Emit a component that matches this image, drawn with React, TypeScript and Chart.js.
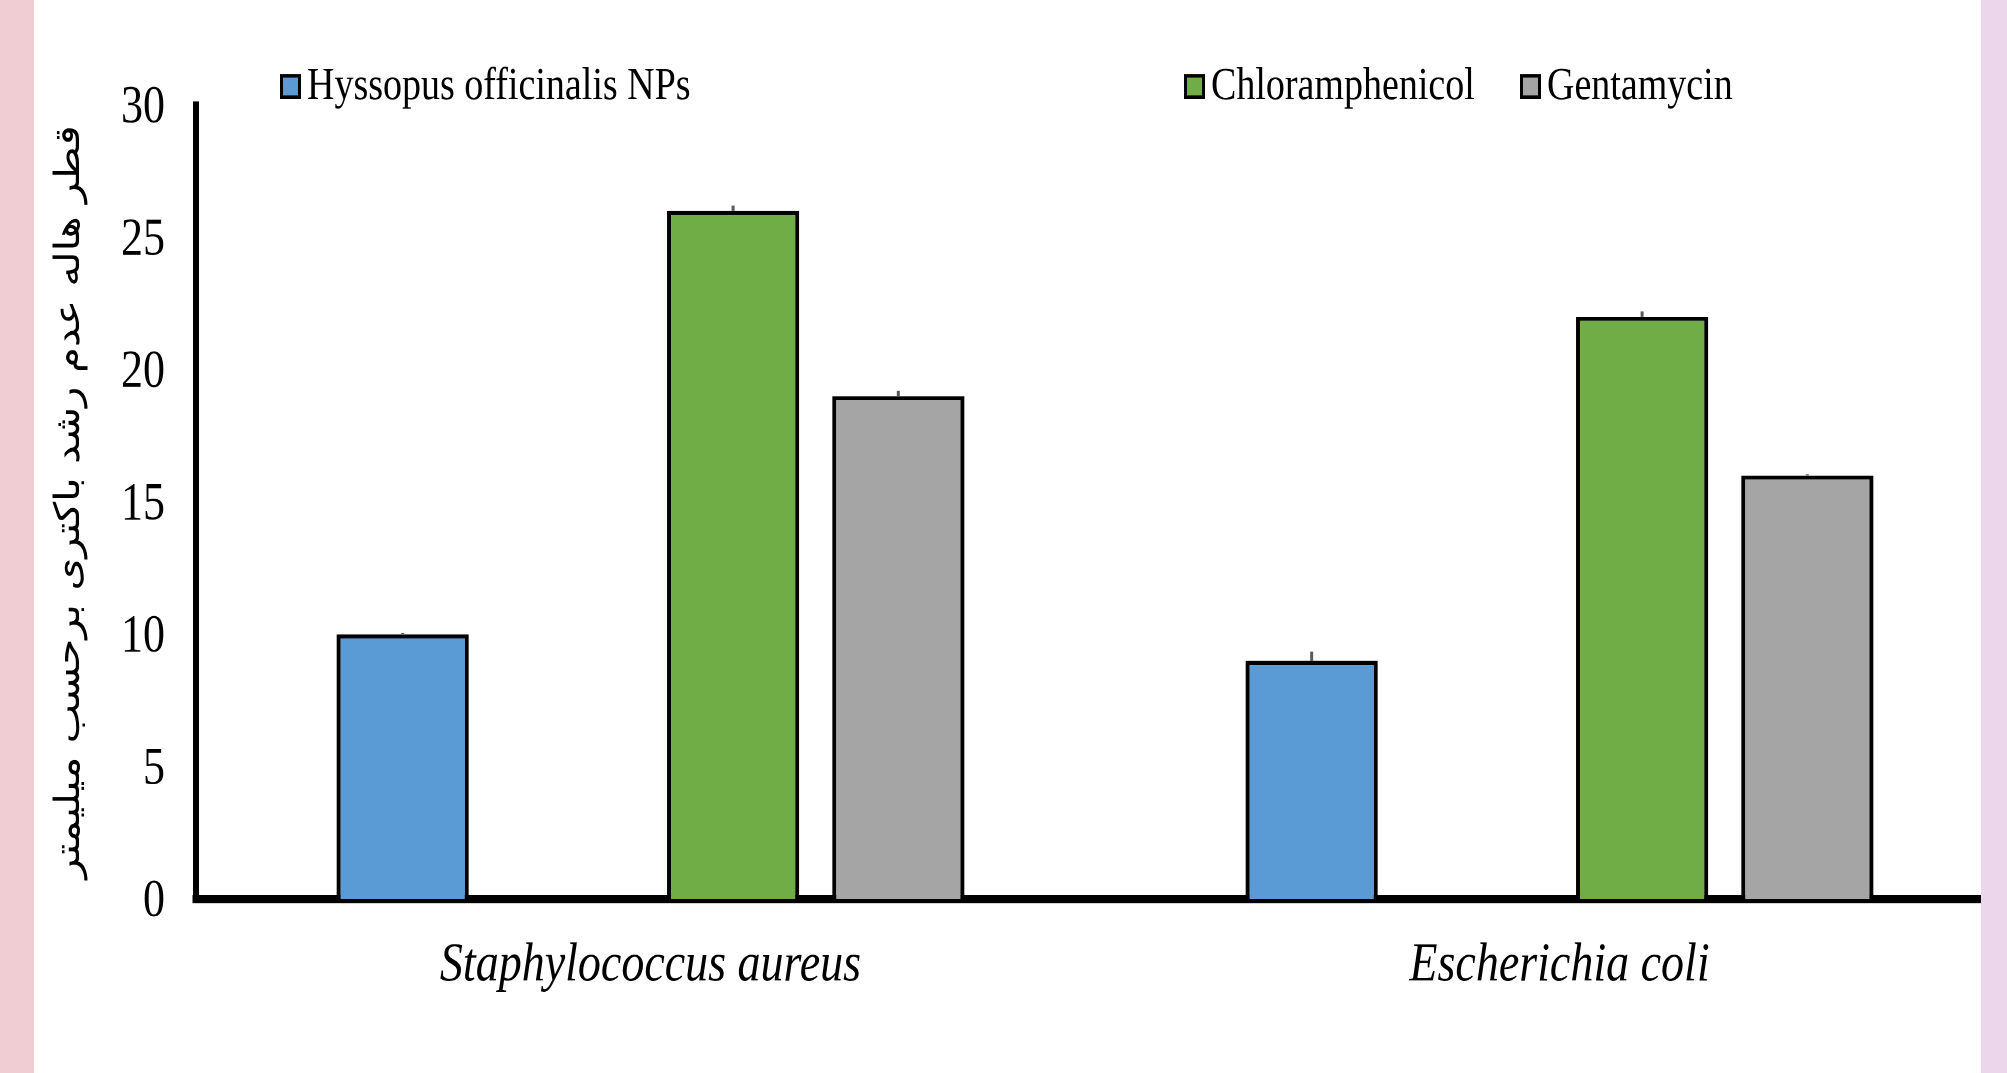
import { useEffect, useRef } from "react";
import { Chart, registerables, Plugin } from "chart.js";

Chart.register(...registerables);

// data
const bacteria = ["Staphylococcus aureus", "Escherichia coli"];
const seriesNames = ["Hyssopus officinalis NPs", "", "Chloramphenicol", "Gentamycin"];
const hyssopus = [10, 9];
const blankSeries: (number | null)[] = [null, null];
const chloramphenicol = [26, 22];
const gentamycin = [19, 16];
const hyssopusErr = [0.05, 0.35];
const chloramphenicolErr = [0.2, 0.2];
const gentamycinErr = [0.2, 0.05];
const yTicks = [0, 5, 10, 15, 20, 25, 30];
const yTitle = "قطر هاله عدم رشد باکتری برحسب میلیمتر";

const colors = ["#5B9BD5", "rgba(0,0,0,0)", "#70AD47", "#A5A5A5"];

// the source picture is stretched vertically, so the chart is drawn flatter and scaled
const STRETCH = 1.2;
const W = 2030;
const H = Math.round(1073 / STRETCH);
const legendX = [280, 0, 1184, 1520];
const TITLE_SIZE = 35;
const PAD_LEFT = 70 - (TITLE_SIZE * 1.2) / 2;

const errorBars: Plugin<"bar"> = {
    id: "errorBars",
    afterDatasetsDraw(chart) {
        const { ctx } = chart;
        const y = chart.scales.y;
        ctx.save();
        ctx.strokeStyle = "#595959";
        ctx.lineWidth = 3;
        chart.data.datasets.forEach((ds: any, i) => {
            const errs: number[] | undefined = ds.errors;
            if (!errs) return;
            chart.getDatasetMeta(i).data.forEach((bar: any, j) => {
                const v = ds.data[j];
                if (v == null || !errs[j]) return;
                ctx.beginPath();
                ctx.moveTo(bar.x, y.getPixelForValue(v));
                ctx.lineTo(bar.x, y.getPixelForValue(v + errs[j]));
                ctx.stroke();
            });
        });
        ctx.restore();
    },
};

const legendRow: Plugin<"bar"> = {
    id: "legendRow",
    afterDraw(chart) {
        const { ctx } = chart;
        const boxTop = 74 / STRETCH;
        const baseline = 99 / STRETCH;
        const boxH = baseline - boxTop;
        ctx.save();
        ctx.font = '38px "Liberation Serif", serif';
        ctx.textBaseline = "alphabetic";
        ctx.textAlign = "left";
        chart.data.datasets.forEach((ds: any, i) => {
            if (!ds.label) return;
            const x = legendX[i];
            ctx.fillStyle = ds.backgroundColor;
            ctx.fillRect(x, boxTop, 21, boxH);
            ctx.lineWidth = 3;
            ctx.strokeStyle = "#000";
            ctx.strokeRect(x + 1.5, boxTop + 1.5, 18, boxH - 3);
            ctx.fillStyle = "#000";
            ctx.fillText(ds.label, x + 27, baseline);
        });
        ctx.restore();
    },
};

export default function App() {
    const canvasRef = useRef<HTMLCanvasElement>(null);
    const chartRef = useRef<Chart | null>(null);

    useEffect(() => {
        if (!canvasRef.current) return;
        const values = [hyssopus, blankSeries, chloramphenicol, gentamycin];
        const errors = [hyssopusErr, undefined, chloramphenicolErr, gentamycinErr];
        chartRef.current = new Chart(canvasRef.current, {
            type: "bar",
            data: {
                labels: bacteria,
                datasets: seriesNames.map((name, i) => ({
                    label: name,
                    data: values[i],
                    errors: errors[i],
                    backgroundColor: colors[i],
                    borderColor: "#000",
                    borderWidth: { top: 3.4, left: 4, right: 4, bottom: 0 },
                    borderSkipped: "bottom",
                    categoryPercentage: 0.727,
                    barPercentage: 0.8,
                })) as any,
            },
            options: {
                responsive: false,
                animation: false,
                devicePixelRatio: 2,
                layout: { padding: { top: 105 / STRETCH, left: PAD_LEFT, right: W - 2014, bottom: 0 } },
                plugins: {
                    legend: { display: false },
                    tooltip: { enabled: false },
                },
                scales: {
                    x: {
                        grid: { display: false, drawTicks: false },
                        border: { display: true, color: "#000", width: 8 / STRETCH },
                        ticks: {
                            color: "#000",
                            padding: 28,
                            font: { family: '"Liberation Serif", serif', size: 46, style: "italic" },
                        },
                        afterFit: (scale: any) => {
                            scale.height = H - 899 / STRETCH;
                        },
                    },
                    y: {
                        min: 0,
                        max: 30,
                        grid: { display: false, drawTicks: false },
                        border: { display: true, color: "#000", width: 6 },
                        afterBuildTicks: (scale: any) => {
                            scale.ticks = yTicks.map((v) => ({ value: v }));
                        },
                        ticks: {
                            color: "#000",
                            padding: 31,
                            labelOffset: 2.5,
                            font: { family: '"Liberation Serif", serif', size: 44 },
                        },
                        title: {
                            display: true,
                            text: yTitle,
                            color: "#000",
                            padding: 0,
                            font: { family: '"DejaVu Sans", sans-serif', size: TITLE_SIZE },
                        },
                        afterFit: (scale: any) => {
                            scale.width = 196 - PAD_LEFT;
                        },
                    },
                },
            },
            plugins: [errorBars, legendRow],
        });
        return () => {
            chartRef.current?.destroy();
            chartRef.current = null;
        };
    }, []);

    return (
        <div
            style={{
                position: "fixed",
                left: 0,
                top: 0,
                width: 2007,
                height: 1073,
                overflow: "hidden",
                background: "linear-gradient(to right, #F0CCD3, #EBD6EC)",
            }}
        >
            <div
                style={{
                    position: "absolute",
                    left: 34,
                    top: 0,
                    width: 1981 - 34,
                    height: 1073,
                    background: "#fff",
                    overflow: "hidden",
                }}
            >
                <div
                    style={{
                        position: "absolute",
                        left: -34,
                        top: 0,
                        width: W,
                        height: H,
                        transform: `scaleY(${STRETCH})`,
                        transformOrigin: "0 0",
                    }}
                >
                    <canvas ref={canvasRef} width={W} height={H} style={{ display: "block", width: W, height: H }} />
                </div>
            </div>
        </div>
    );
}
